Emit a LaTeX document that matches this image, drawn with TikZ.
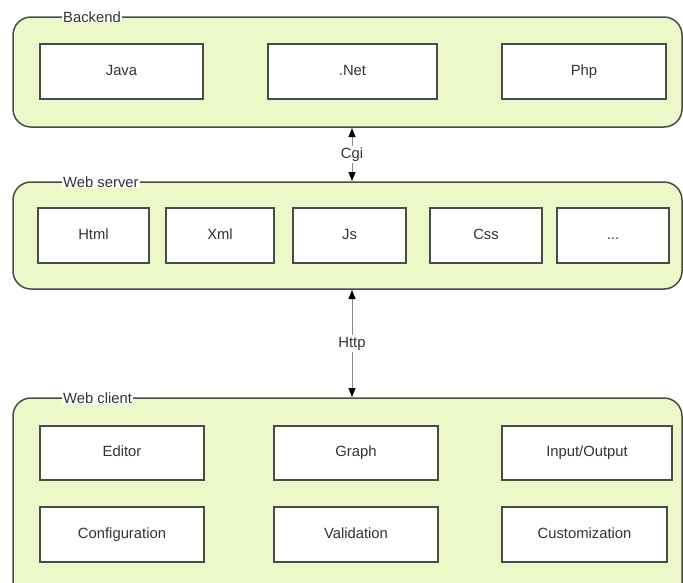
\documentclass[tikz,border=0pt]{standalone}
\usepackage{fontspec}
\setmainfont{Liberation Sans}
\usetikzlibrary{arrows.meta}
\definecolor{grp}{HTML}{ECF8C8}
\definecolor{edge}{HTML}{4A4A4A}
\definecolor{txt}{HTML}{333333}
\definecolor{arrline}{HTML}{8A8A8A}
\tikzset{
  container/.style={draw=edge, line width=1.5pt, fill=grp, rounded corners=18pt},
  item/.style={draw=edge, line width=1.5pt, fill=white, rectangle, inner sep=0pt,
    text=txt, font=\fontsize{14.8}{16}\selectfont, text height=10.5pt, text depth=3pt},
  grouplabel/.style={anchor=west, fill=white, inner sep=1pt, text=txt,
    font=\fontsize{14.8}{16}\selectfont},
  link/.style={draw=arrline, line width=0.8pt, {Triangle[width=7pt,length=9pt,color=black]}-{Triangle[width=7pt,length=9pt,color=black]}},
  linklabel/.style={fill=white, inner sep=1.5pt, text=txt, font=\fontsize{14.8}{16}\selectfont}
}
\begin{document}
\begin{tikzpicture}[x=1pt,y=-1pt]
\useasboundingbox (0,0) rectangle (683,582);
\clip (0,0) rectangle (683,582);
% containers
\draw[container] (13,17) rectangle (682,127);
\draw[container] (13,182) rectangle (682,289);
\draw[container] (13,398) rectangle (682,620);
\node[grouplabel] (lb) at (62,17) {Backend};
\node[grouplabel] (lw) at (62,182) {Web server};
\node[grouplabel] (lc) at (62,398) {Web client};
% backend items
\node[item, minimum width=163pt, minimum height=55pt] (java) at (121.5,71.5) {Java};
\node[item, minimum width=169pt, minimum height=55pt] (net) at (352.5,71.5) {.Net};
\node[item, minimum width=164pt, minimum height=55pt] (php) at (584,71.5) {Php};
% web server items
\node[item, minimum width=111pt, minimum height=55pt] (html) at (93.5,235.5) {Html};
\node[item, minimum width=108pt, minimum height=55pt] (xml) at (220,235.5) {Xml};
\node[item, minimum width=113pt, minimum height=55pt] (js) at (349.5,235.5) {Js};
\node[item, minimum width=112pt, minimum height=55pt] (css) at (486,235.5) {Css};
\node[item, minimum width=112pt, minimum height=55pt] (more) at (613,235.5) {...};
% web client items
\node[item, minimum width=164pt, minimum height=54pt] (editor) at (122,453) {Editor};
\node[item, minimum width=164pt, minimum height=54pt] (graph) at (356,453) {Graph};
\node[item, minimum width=170pt, minimum height=54pt] (io) at (587,453) {Input/Output};
\node[item, minimum width=164pt, minimum height=55pt] (config) at (122,534.5) {Configuration};
\node[item, minimum width=164pt, minimum height=55pt] (valid) at (356,534.5) {Validation};
\node[item, minimum width=165pt, minimum height=55pt] (custom) at (584.5,534.5) {Customization};
% connectors
\coordinate (cgiA) at (352,128);
\coordinate (cgiB) at (352,181);
\coordinate (httpA) at (352,290);
\coordinate (httpB) at (352,397);
\draw[link] (cgiA) -- node[linklabel] {Cgi} (cgiB);
\draw[link] (httpA) -- node[linklabel] {Http} (httpB);
\end{tikzpicture}
\end{document}
